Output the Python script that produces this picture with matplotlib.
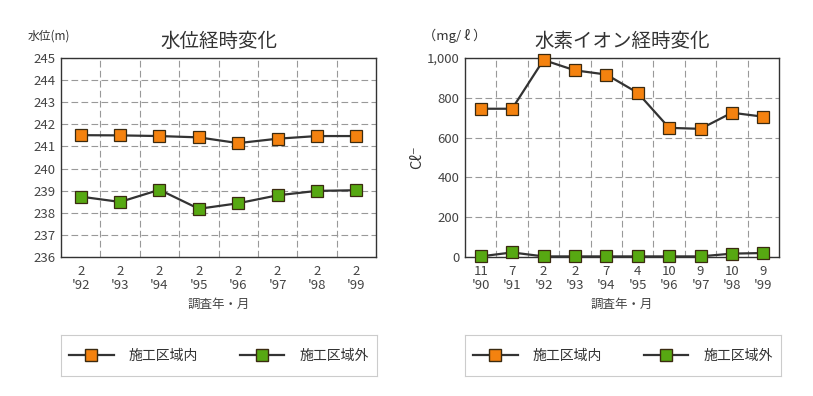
import matplotlib
matplotlib.use("Agg")
import matplotlib.pyplot as plt
from matplotlib.lines import Line2D

plt.rcParams["font.family"] = ["Noto Sans CJK JP", "DejaVu Sans"]

# left chart: water level
wl_months = ["2", "2", "2", "2", "2", "2", "2", "2"]
wl_years = ["'92", "'93", "'94", "'95", "'96", "'97", "'98", "'99"]
wl_inside = [241.51, 241.50, 241.47, 241.41, 241.15, 241.35, 241.47, 241.47]
wl_outside = [238.73, 238.49, 239.04, 238.18, 238.43, 238.79, 238.99, 239.02]

# right chart: chloride ion
cl_months = ["11", "7", "2", "2", "7", "4", "10", "9", "10", "9"]
cl_years = ["'90", "'91", "'92", "'93", "'94", "'95", "'96", "'97", "'98", "'99"]
cl_inside = [745, 745, 990, 938, 917, 825, 649, 644, 725, 705]
cl_outside = [3, 23, 3, 3, 3, 3, 3, 3, 17, 20]

labels = ["施工区域内", "施工区域外"]
ORANGE = "#F4820F"
GREEN = "#57A812"
LINE = "#333333"
EDGE = "#3a2a10"
GRID = "#999999"
TXT = "#444444"

W, H = 813, 396
fig = plt.figure(figsize=(W / 100, H / 100), dpi=100)


def px(x0, y0, x1, y1):
    return [x0 / W, 1 - y1 / H, (x1 - x0) / W, (y1 - y0) / H]


def style(ax, n):
    ax.set_xlim(-0.5, n - 0.5)
    ax.set_xticks(range(n))
    ax.set_xticks([i + 0.5 for i in range(n - 1)], minor=True)
    ax.grid(True, which="minor", axis="x", color=GRID, ls=(0, (6, 3)), lw=0.8)
    ax.grid(True, which="major", axis="y", color=GRID, ls=(0, (6, 3)), lw=0.8)
    ax.tick_params(which="both", length=0, labelsize=9.5, colors=TXT, pad=4)
    ax.tick_params(axis="x", pad=6)
    for s in ax.spines.values():
        s.set_color("#333333")
        s.set_linewidth(1.0)
    ax.set_axisbelow(True)


def series(ax, vals, color):
    ax.plot(range(len(vals)), vals, color=LINE, lw=1.6, marker="s", ms=9,
            mfc=color, mec=EDGE, mew=0.9, zorder=3, clip_on=False)


# left
ax1 = fig.add_axes(px(61, 58, 376, 257))
style(ax1, len(wl_years))
series(ax1, wl_inside, ORANGE)
series(ax1, wl_outside, GREEN)
ax1.set_ylim(236, 245)
ax1.set_yticks(range(236, 246))
ax1.set_xticklabels([f"{m}\n{y}" for m, y in zip(wl_months, wl_years)], linespacing=1.1)
ax1.set_xlabel("調査年・月", fontsize=9, color=TXT, labelpad=4)
ax1.set_title("水位経時変化", fontsize=14, color="#333333", pad=8)
fig.text(28 / W, 1 - 36 / H, "水位(m)", fontsize=8.5, color="#333333", va="center")

# right
ax2 = fig.add_axes(px(465, 58, 779, 257))
style(ax2, len(cl_years))
series(ax2, cl_inside, ORANGE)
series(ax2, cl_outside, GREEN)
ax2.set_ylim(0, 1000)
ax2.set_yticks(range(0, 1001, 200))
ax2.set_yticklabels(["0", "200", "400", "600", "800", "1,000"])
ax2.set_xticklabels([f"{m}\n{y}" for m, y in zip(cl_months, cl_years)], linespacing=1.1)
ax2.set_xlabel("調査年・月", fontsize=9, color=TXT, labelpad=4)
ax2.set_ylabel("Cℓ⁻", fontsize=10.5, color="#333333", labelpad=2)
ax2.set_title("水素イオン経時変化", fontsize=14, color="#333333", pad=8)
fig.text(423 / W, 1 - 36 / H, "（mg/ ℓ ）", fontsize=9.5, color="#333333", va="center")

# legend boxes
handles = [
    Line2D([], [], color=LINE, lw=1.6, marker="s", ms=8.5, mfc=ORANGE, mec=EDGE),
    Line2D([], [], color=LINE, lw=1.6, marker="s", ms=8.5, mfc=GREEN, mec=EDGE),
]
for x0 in (61, 465):
    lax = fig.add_axes(px(x0, 335, x0 + 316, 376))
    lax.set_xticks([])
    lax.set_yticks([])
    for s in lax.spines.values():
        s.set_color("#cccccc")
    lax.legend(handles, labels, loc="center", ncol=2, frameon=False,
               fontsize=10, handlelength=3.2, handletextpad=1.1, columnspacing=3.0,
               labelcolor="#333333")

fig.savefig("out.png", dpi=100)
